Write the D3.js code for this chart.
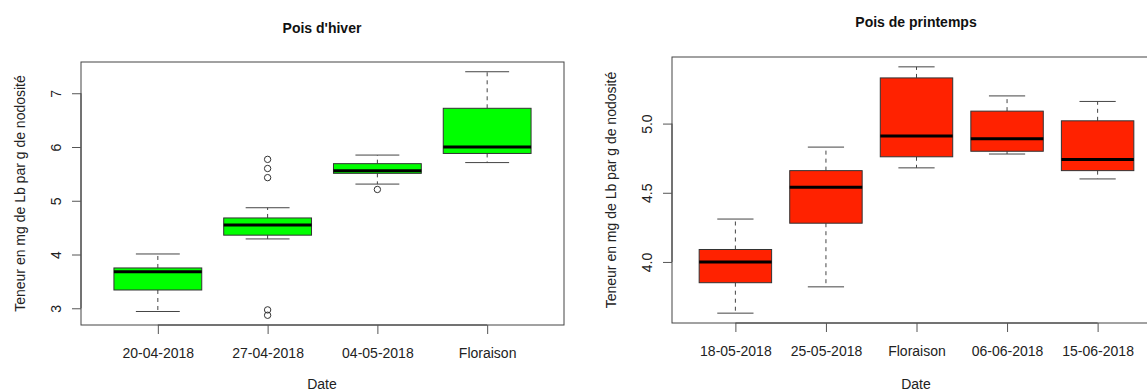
<!DOCTYPE html>
<html>
<head>
<meta charset="utf-8">
<script src="https://cdn.jsdelivr.net/npm/d3@7"></script>
<style>
  body { margin: 0; background: #fff; }
  svg { display: block; font-family: "Liberation Sans", Arial, sans-serif; }
</style>
</head>
<body>
<div id="chart"></div>
<script>
// ---------- data ----------
// each box: whisker low, Q1, median, Q3, whisker high
const hiverDates   = ["20-04-2018", "27-04-2018", "04-05-2018", "Floraison"];
const hiverLow     = [2.94, 4.29, 5.31, 5.71];
const hiverQ1      = [3.34, 4.36, 5.51, 5.88];
const hiverMedian  = [3.68, 4.55, 5.56, 6.00];
const hiverQ3      = [3.75, 4.68, 5.69, 6.72];
const hiverHigh    = [4.01, 4.87, 5.85, 7.40];
const hiverOutliers = [[], [5.77, 5.60, 5.43, 2.97, 2.87], [5.21], []];
const hiverTicks   = [3, 4, 5, 6, 7];

const printDates   = ["18-05-2018", "25-05-2018", "Floraison", "06-06-2018", "15-06-2018"];
const printLow     = [3.63, 3.82, 4.68, 4.78, 4.60];
const printQ1      = [3.85, 4.28, 4.76, 4.80, 4.66];
const printMedian  = [4.00, 4.54, 4.91, 4.89, 4.74];
const printQ3      = [4.09, 4.66, 5.33, 5.09, 5.02];
const printHigh    = [4.31, 4.83, 5.41, 5.20, 5.16];
const printOutliers = [[], [], [], [], []];
const printTicks   = [4.0, 4.5, 5.0];

const W = 1147, H = 391;

const svg = d3.select("#chart").append("svg")
  .attr("width", W)
  .attr("height", H);

function drawPanel(opt) {
  const boxes = opt.dates.map((d, i) => ({
    date: d,
    low: opt.low[i], q1: opt.q1[i], med: opt.median[i], q3: opt.q3[i], high: opt.high[i],
    out: opt.outliers[i]
  }));

  // R-style range: data range extended by 4%
  const all = boxes.flatMap(b => [b.low, b.high, ...b.out]);
  const [lo, hi] = d3.extent(all);
  const pad = (hi - lo) * 0.04;

  const y = d3.scaleLinear()
    .domain([lo - pad, hi + pad])
    .range([opt.bottom, opt.top]);

  const x = d3.scalePoint()
    .domain(opt.dates)
    .range([opt.left, opt.right])
    .padding(0.7);

  const bw = x.step() * 0.8;
  const g = svg.append("g");

  // frame
  g.append("rect")
    .attr("x", opt.left).attr("y", opt.top)
    .attr("width", opt.right - opt.left)
    .attr("height", opt.bottom - opt.top)
    .attr("fill", "none")
    .attr("stroke", "#444")
    .attr("stroke-width", 1);

  // y axis
  const ya = g.append("g")
    .attr("transform", `translate(${opt.left},0)`)
    .call(d3.axisLeft(y).tickValues(opt.ticks).tickSize(9).tickFormat(opt.fmt));
  ya.select(".domain")
    .attr("d", `M0,${y(opt.ticks[0])}V${y(opt.ticks[opt.ticks.length - 1])}`)
    .attr("stroke", "#444");
  ya.selectAll(".tick line").attr("stroke", "#555");
  ya.selectAll(".tick text")
    .attr("x", null).attr("dy", null)
    .attr("transform", "translate(-20,0) rotate(-90)")
    .attr("text-anchor", "middle")
    .attr("font-size", 14)
    .attr("font-family", "Liberation Sans, Arial, sans-serif")
    .attr("fill", "#222");

  // x axis
  const xa = g.append("g")
    .attr("transform", `translate(0,${opt.bottom})`)
    .call(d3.axisBottom(x).tickSize(9));
  xa.select(".domain")
    .attr("d", `M${x(opt.dates[0])},0H${x(opt.dates[opt.dates.length - 1])}`)
    .attr("stroke", "#444");
  xa.selectAll(".tick line").attr("stroke", "#555");
  xa.selectAll(".tick text")
    .attr("y", 33).attr("dy", null)
    .attr("font-size", 14)
    .attr("font-family", "Liberation Sans, Arial, sans-serif")
    .attr("fill", "#222");

  // boxes
  const bx = g.selectAll(".box")
    .data(boxes)
    .join("g")
    .attr("class", "box")
    .attr("transform", d => `translate(${x(d.date)},0)`);

  // dashed whiskers
  bx.append("line")
    .attr("y1", d => y(d.q3)).attr("y2", d => y(d.high))
    .attr("stroke", "#444").attr("stroke-dasharray", "4,4");
  bx.append("line")
    .attr("y1", d => y(d.q1)).attr("y2", d => y(d.low))
    .attr("stroke", "#444").attr("stroke-dasharray", "4,4");

  // staples, half the box width
  bx.append("line")
    .attr("x1", -bw / 4).attr("x2", bw / 4)
    .attr("y1", d => y(d.high)).attr("y2", d => y(d.high))
    .attr("stroke", "#444");
  bx.append("line")
    .attr("x1", -bw / 4).attr("x2", bw / 4)
    .attr("y1", d => y(d.low)).attr("y2", d => y(d.low))
    .attr("stroke", "#444");

  bx.append("rect")
    .attr("x", -bw / 2)
    .attr("width", bw)
    .attr("y", d => y(d.q3))
    .attr("height", d => y(d.q1) - y(d.q3))
    .attr("fill", opt.color)
    .attr("stroke", "#333");

  bx.append("line")
    .attr("x1", -bw / 2).attr("x2", bw / 2)
    .attr("y1", d => y(d.med)).attr("y2", d => y(d.med))
    .attr("stroke", "#000").attr("stroke-width", 3);

  bx.selectAll(".out")
    .data(d => d.out)
    .join("circle")
    .attr("class", "out")
    .attr("cy", v => y(v))
    .attr("r", 3.2)
    .attr("fill", "none")
    .attr("stroke", "#333");

  // titles / labels
  svg.append("text")
    .attr("x", opt.titleX).attr("y", opt.titleY)
    .attr("text-anchor", "middle")
    .attr("font-weight", "bold")
    .attr("font-size", 14)
    .attr("fill", "#111")
    .text(opt.title);

  svg.append("text")
    .attr("x", opt.titleX).attr("y", 389)
    .attr("text-anchor", "middle")
    .attr("font-size", 14)
    .attr("fill", "#222")
    .text("Date");

  svg.append("text")
    .attr("transform", `translate(${opt.ylabX},${(opt.top + opt.bottom) / 2}) rotate(-90)`)
    .attr("text-anchor", "middle")
    .attr("dy", "0.35em")
    .attr("font-size", 14)
    .attr("fill", "#222")
    .text("Teneur en mg de Lb par g de nodosité");
}

drawPanel({
  title: "Pois d'hiver", dates: hiverDates,
  low: hiverLow, q1: hiverQ1, median: hiverMedian, q3: hiverQ3, high: hiverHigh,
  outliers: hiverOutliers, ticks: hiverTicks, fmt: d3.format("d"),
  color: "#00ff00",
  left: 81, right: 564, top: 62, bottom: 325,
  titleX: 322, titleY: 33, ylabX: 20
});

drawPanel({
  title: "Pois de printemps", dates: printDates,
  low: printLow, q1: printQ1, median: printMedian, q3: printQ3, high: printHigh,
  outliers: printOutliers, ticks: printTicks, fmt: d3.format(".1f"),
  color: "#ff2200",
  left: 672, right: 1161, top: 57, bottom: 323,
  titleX: 916, titleY: 27, ylabX: 611
});
</script>
</body>
</html>
